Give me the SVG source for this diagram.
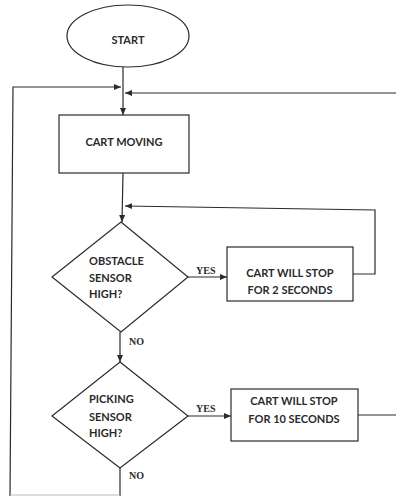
<svg xmlns="http://www.w3.org/2000/svg" width="396" height="496" viewBox="0 0 396 496">
<style>
.s{fill:#fff;stroke:#2b2b2b;stroke-width:1.2}
.c{fill:none;stroke:#2b2b2b;stroke-width:1.2}
.t{font-family:Lato,"Liberation Sans",sans-serif;font-weight:bold;font-size:11px;fill:#2a2a2a}
.l{font-family:"Liberation Serif",serif;font-weight:bold;font-size:10px;fill:#2a2a2a}
</style>
<defs>
<marker id="a" markerWidth="8" markerHeight="8" refX="7" refY="4" orient="auto" markerUnits="userSpaceOnUse">
<path d="M0,1 L7,4 L0,7 Z" fill="#2b2b2b"/>
</marker>
</defs>
<rect width="396" height="496" fill="#fff"/>
<g id="connectors">
<line class="c" x1="123" y1="67" x2="123" y2="115" marker-end="url(#a)"/>
<polyline class="c" points="10,496 13,87 121,87" marker-end="url(#a)"/>
<line class="c" x1="396" y1="93" x2="125" y2="93" marker-end="url(#a)"/>
<line class="c" x1="123" y1="173" x2="122" y2="222" marker-end="url(#a)"/>
<polyline class="c" points="353,274 375,274 375,210 125,206" marker-end="url(#a)"/>
<line class="c" x1="188" y1="277" x2="227" y2="277" marker-end="url(#a)"/>
<line class="c" x1="120" y1="332" x2="120" y2="362" marker-end="url(#a)"/>
<line class="c" x1="188" y1="416" x2="231" y2="416" marker-end="url(#a)"/>
<line class="c" x1="358" y1="415" x2="396" y2="415"/>
<line class="c" x1="120" y1="468" x2="120" y2="496"/>
<line x1="10" y1="495" x2="120" y2="495" stroke="#bbb" stroke-width="1"/>
<text class="l" x="196" y="274">YES</text>
<text class="l" x="196" y="412">YES</text>
<text class="l" x="129" y="345">NO</text>
<text class="l" x="129" y="479">NO</text>
</g>
<g id="start">
<ellipse class="s" cx="128" cy="36" rx="61" ry="31"/>
<text class="t" x="128" y="44" text-anchor="middle">START</text>
</g>
<g id="cart-moving">
<rect class="s" x="59" y="115" width="130" height="58"/>
<text class="t" x="124" y="146" text-anchor="middle">CART MOVING</text>
</g>
<g id="obstacle">
<polygon class="s" points="121,222 188,277 121,332 52,277"/>
<text class="t" x="89" y="265">OBSTACLE</text>
<text class="t" x="89" y="282">SENSOR</text>
<text class="t" x="89" y="298">HIGH?</text>
</g>
<g id="stop2">
<rect class="s" x="227" y="247" width="126" height="54"/>
<text class="t" x="290" y="277" text-anchor="middle">CART WILL STOP</text>
<text class="t" x="290" y="294" text-anchor="middle">FOR 2 SECONDS</text>
</g>
<g id="picking">
<polygon class="s" points="120,362 188,416 120,468 52,416"/>
<text class="t" x="89" y="403">PICKING</text>
<text class="t" x="89" y="421">SENSOR</text>
<text class="t" x="89" y="437">HIGH?</text>
</g>
<g id="stop10">
<rect class="s" x="231" y="389" width="127" height="52"/>
<text class="t" x="294" y="405" text-anchor="middle">CART WILL STOP</text>
<text class="t" x="294" y="423" text-anchor="middle">FOR 10 SECONDS</text>
</g>
</svg>
